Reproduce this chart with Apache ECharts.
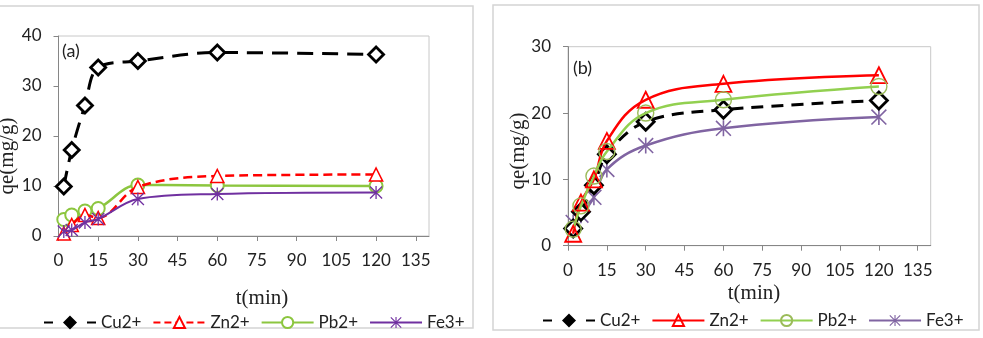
<!DOCTYPE html>
<html><head><meta charset="utf-8">
<script src="https://cdn.jsdelivr.net/npm/echarts@6/dist/echarts.min.js"></script>
<style>html,body{margin:0;padding:0;background:#fff}#c{width:983px;height:338px}</style>
</head><body><div id="c"></div>
<script>
// ---- data ----
const times = [2, 5, 10, 15, 30, 60, 120];
const xTicks = [0, 15, 30, 45, 60, 75, 90, 105, 120, 135];
const yTicksA = [0, 10, 20, 30, 40];
const yTicksB = [0, 10, 20, 30];
const seriesNames = ['Cu2+', 'Zn2+', 'Pb2+', 'Fe3+'];
const cuA = [9.9, 17.2, 26.1, 33.7, 35.0, 36.7, 36.3];
const znA = [0.5, 2.2, 4.2, 3.6, 9.8, 12.0, 12.3];
const pbA = [3.3, 4.2, 5.0, 5.5, 10.2, 10.1, 10.0];
const feA = [0.9, 1.2, 2.7, 3.4, 7.4, 8.4, 8.7];
const cuB = [2.6, 5.1, 9.1, 13.8, 18.7, 20.5, 21.9];
const znB = [1.8, 6.5, 10.0, 15.8, 22.0, 24.4, 25.7];
const pbB = [2.5, 6.0, 10.5, 14.2, 20.0, 22.0, 24.0];
const feB = [3.5, 4.6, 7.3, 11.5, 15.1, 17.7, 19.4];

const pair = v => times.map((t, i) => [t, v[i]]);
const ASTER = 'path://M9 0L11 0L11 20L9 20Z M0 1.4L1.4 0L20 18.6L18.6 20Z M18.6 0L20 1.4L1.4 20L0 18.6Z';
const SANS = 'Lato';
const SERIF = 'Liberation Serif';

function xAxis(gi) {
  return {
    gridIndex: gi, type: 'value', min: 0, max: 140, interval: 15,
    splitLine: { show: false },
    axisLine: { lineStyle: { color: '#868686', width: 1 } },
    axisTick: { length: 5, lineStyle: { color: '#868686' }, customValues: xTicks },
    axisLabel: { customValues: xTicks, color: '#222', fontFamily: SANS, fontSize: 17, margin: 16 }
  };
}
function yAxis(gi, max, ticks) {
  return {
    gridIndex: gi, type: 'value', min: 0, max: max, interval: 10,
    splitLine: { show: false },
    axisLine: { show: true, lineStyle: { color: '#868686', width: 1 } },
    axisTick: { show: true, length: 5, lineStyle: { color: '#868686' }, customValues: ticks },
    axisLabel: { customValues: ticks, color: '#222', fontFamily: SANS, fontSize: 17, margin: 17 }
  };
}

function mk(name, data, gi, opt) {
  return {
    type: 'line', name: name, xAxisIndex: gi, yAxisIndex: gi, data: pair(data),
    smooth: opt.smooth, symbol: opt.symbol, symbolSize: opt.size,
    showAllSymbol: true, z: opt.z || 2,
    lineStyle: { color: opt.color, width: opt.width, type: opt.dash || 'solid' },
    itemStyle: { color: opt.fill, borderColor: opt.border, borderWidth: opt.bw },
    emphasis: { disabled: true }, animation: false
  };
}

const series = [
  mk('Cu2+', cuA, 0, { smooth: 0.35, symbol: 'diamond', size: 15, color: '#000', width: 3, dash: [16, 9], fill: '#fff', border: '#000', bw: 2.8, z: 5 }),
  mk('Zn2+', znA, 0, { smooth: 0.35, symbol: 'triangle', size: 13, color: '#ff0000', width: 2.5, dash: [9, 5], fill: '#fff', border: '#ff0000', bw: 1.6, z: 3 }),
  mk('Pb2+', pbA, 0, { smooth: 0.35, symbol: 'circle', size: 13, color: '#8cc63f', width: 2.5, fill: '#fff', border: '#8cc63f', bw: 2, z: 2 }),
  mk('Fe3+', feA, 0, { smooth: 0.35, symbol: ASTER, size: 13, color: '#7030a0', width: 2, fill: '#7030a0', border: '#7030a0', bw: 0, z: 4 }),
  mk('Cu2+ (b)', cuB, 1, { smooth: 0.35, symbol: 'diamond', size: 17, color: '#000', width: 3, dash: [12, 8], fill: '#fff', border: '#000', bw: 2.8, z: 3 }),
  mk('Zn2+ (b)', znB, 1, { smooth: 0.4, symbol: 'triangle', size: 16, color: '#ff0000', width: 2.5, fill: 'rgba(255,255,255,0)', border: '#ff0000', bw: 1.8, z: 4 }),
  mk('Pb2+ (b)', pbB, 1, { smooth: 0.4, symbol: 'circle', size: 16, color: '#92d050', width: 2.5, fill: 'rgba(255,255,255,0)', border: '#9bbb59', bw: 1.4, z: 4 }),
  mk('Fe3+ (b)', feB, 1, { smooth: 0.4, symbol: ASTER, size: 16, color: '#8064a2', width: 2.5, fill: '#8064a2', border: '#8064a2', bw: 0, z: 2 })
];

const legendBase = {
  orient: 'horizontal', itemWidth: 52, itemHeight: 14, itemGap: 11, selectedMode: false,
  textStyle: { fontFamily: SANS, fontSize: 17, color: '#222' },
  formatter: n => n.replace(' (b)', '')
};
function legendData(suffix, znDash) {
  return seriesNames.map((n, i) => {
    if (i === 0) return { name: n + suffix, itemStyle: { color: '#000', borderColor: '#000' }, lineStyle: { type: [9, 34] } };
    if (i === 1 && znDash) return { name: n + suffix, lineStyle: { type: [7, 4] } };
    return { name: n + suffix };
  });
}

const chart = echarts.init(document.getElementById('c'), null, { renderer: 'canvas' });
chart.setOption({
  backgroundColor: '#fff',
  animation: false,
  grid: [
    { left: 58.5, top: 36, width: 370.5, height: 200, show: true, borderColor: '#c8c8c8', borderWidth: 1 },
    { left: 568, top: 46.7, width: 362.7, height: 199, show: true, borderColor: '#c8c8c8', borderWidth: 1 }
  ],
  xAxis: [xAxis(0), xAxis(1)],
  yAxis: [yAxis(0, 40, yTicksA), yAxis(1, 30, yTicksB)],
  legend: [
    Object.assign({}, legendBase, { left: 38, top: 309, data: legendData('', true) }),
    Object.assign({}, legendBase, { left: 537, top: 307, data: legendData(' (b)', false) })
  ],
  series: series,
  graphic: [
    { type: 'rect', shape: { x: -2, y: 6, width: 475, height: 322 }, style: { fill: 'none', stroke: '#d4d4d4', lineWidth: 1.5 }, silent: true, z: -10 },
    { type: 'rect', shape: { x: 493, y: 5, width: 486, height: 325 }, style: { fill: 'none', stroke: '#d4d4d4', lineWidth: 1.5 }, silent: true, z: -10 },
    { type: 'text', left: 62, top: 42, style: { text: '(a)', font: '18px ' + SANS, fill: '#222' } },
    { type: 'text', left: 573, top: 59, style: { text: '(b)', font: '18px ' + SANS, fill: '#222' } },
    { type: 'text', x: 262, y: 298, style: { text: 't(min)', font: '21px "' + SERIF + '"', fill: '#222', align: 'center', verticalAlign: 'middle' } },
    { type: 'text', x: 754, y: 293, style: { text: 't(min)', font: '21px "' + SERIF + '"', fill: '#222', align: 'center', verticalAlign: 'middle' } },
    { type: 'text', x: 7, y: 156, rotation: Math.PI / 2, style: { text: 'qe(mg/g)', font: '21px "' + SERIF + '"', fill: '#222', align: 'center', verticalAlign: 'middle' } },
    { type: 'text', x: 518, y: 151, rotation: Math.PI / 2, style: { text: 'qe(mg/g)', font: '21px "' + SERIF + '"', fill: '#222', align: 'center', verticalAlign: 'middle' } }
  ]
});
</script>
</body></html>
